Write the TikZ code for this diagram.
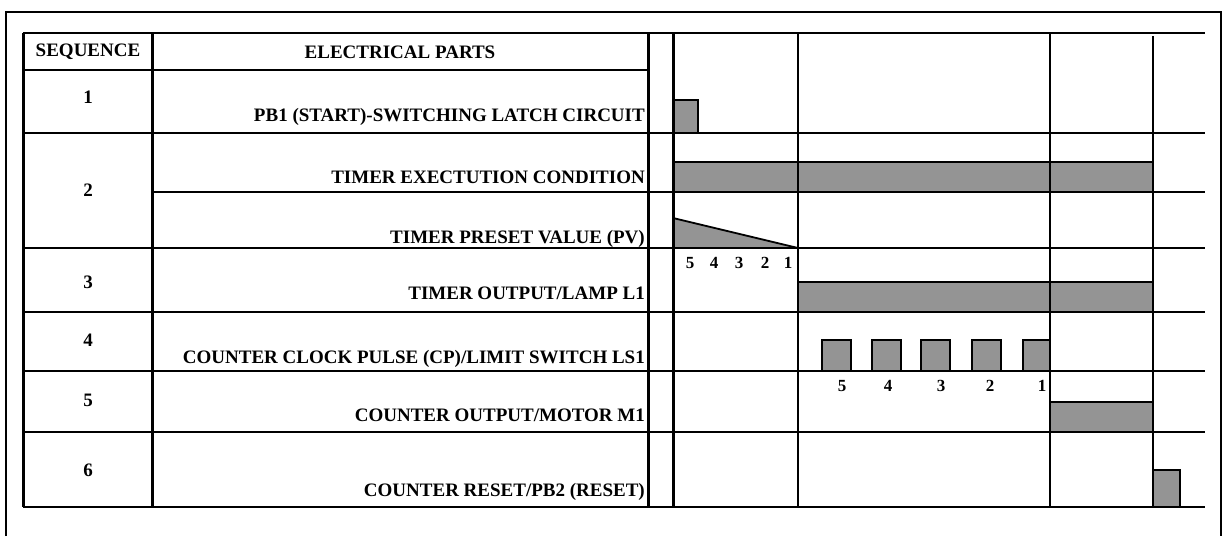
\documentclass[tikz,border=0pt]{standalone}
\usepackage{fontspec}
\setmainfont{Liberation Serif}

\begin{document}
\begin{tikzpicture}[x=1pt,y=-1pt,
  rule/.style={line width=2pt},
  heavyrule/.style={line width=3pt},
  pulse/.style={draw, line width=1.8pt, fill=black!42},
  part/.style={anchor=base east, inner sep=0pt, font=\bfseries\fontsize{19}{22}\selectfont},
  seqno/.style={inner sep=0pt, font=\bfseries\fontsize{19}{22}\selectfont},
  tick/.style={inner sep=0pt, font=\bfseries\fontsize{17}{20}\selectfont}]
\useasboundingbox (0,0) rectangle (1226,536);
% signals
\filldraw[pulse] (673,100) rectangle (698,133);
\filldraw[pulse] (673,162) rectangle (1153,192);
\filldraw[pulse] (673,218) -- (798,248) -- (673,248) -- cycle;
\filldraw[pulse] (798,282) rectangle (1153,312);
\filldraw[pulse] (822,340) rectangle (851,371);
\filldraw[pulse] (872,340) rectangle (901,371);
\filldraw[pulse] (921,340) rectangle (950,371);
\filldraw[pulse] (972,340) rectangle (1001,371);
\filldraw[pulse] (1023,340) rectangle (1050,371);
\filldraw[pulse] (1050,402) rectangle (1153,432);
\filldraw[pulse] (1153,470) rectangle (1180,507);
% outer frame
\draw[rule] (6,536) -- (6,12) -- (1221,12) -- (1221,536);
% table rules
\draw[rule] (23,33) -- (1205,33);
\draw[rule] (23,70) -- (648,70);
\draw[rule] (23,133) -- (1205,133);
\draw[rule] (152,192) -- (1205,192);
\draw[rule] (23,248) -- (1205,248);
\draw[rule] (23,312) -- (1205,312);
\draw[rule] (23,371) -- (1205,371);
\draw[rule] (23,432) -- (1205,432);
\draw[rule] (23,507) -- (1205,507);
\draw[heavyrule] (23,33) -- (23,507);
\draw[heavyrule] (152,33) -- (152,507);
\draw[heavyrule] (648,33) -- (648,507);
\draw[heavyrule] (673,33) -- (673,507);
\draw[rule] (798,33) -- (798,507);
\draw[rule] (1050,33) -- (1050,507);
\draw[rule] (1153,36) -- (1153,507);
% headings
\node[seqno] (seqhead) at (88,52) {SEQUENCE};
\node[seqno] (parthead) at (400,52) {ELECTRICAL PARTS};
\node[seqno] (seq1) at (88,97) {1};
\node[seqno] (seq2) at (88,190) {2};
\node[seqno] (seq3) at (88,282) {3};
\node[seqno] (seq4) at (88,340) {4};
\node[seqno] (seq5) at (88,400) {5};
\node[seqno] (seq6) at (88,470) {6};
% parts
\node[part] (pb1) at (645,121) {PB1 (START)-SWITCHING LATCH CIRCUIT};
\node[part] (tmrcond) at (645,183) {TIMER EXECTUTION CONDITION};
\node[part] (tmrpv) at (645,243) {TIMER PRESET VALUE (PV)};
\node[part] (tmrout) at (645,299) {TIMER OUTPUT/LAMP L1};
\node[part] (cntcp) at (645,363) {COUNTER CLOCK PULSE (CP)/LIMIT SWITCH LS1};
\node[part] (cntout) at (645,421) {COUNTER OUTPUT/MOTOR M1};
\node[part] (cntrst) at (645,496) {COUNTER RESET/PB2 (RESET)};
% timer count
\node[tick] (t5) at (690,263) {5};
\node[tick] (t4) at (714,263) {4};
\node[tick] (t3) at (739,263) {3};
\node[tick] (t2) at (765,263) {2};
\node[tick] (t1) at (788,263) {1};
% counter count
\node[tick] (c5) at (842,386) {5};
\node[tick] (c4) at (888,386) {4};
\node[tick] (c3) at (941,386) {3};
\node[tick] (c2) at (990,386) {2};
\node[tick] (c1) at (1042,386) {1};
\end{tikzpicture}
\end{document}
